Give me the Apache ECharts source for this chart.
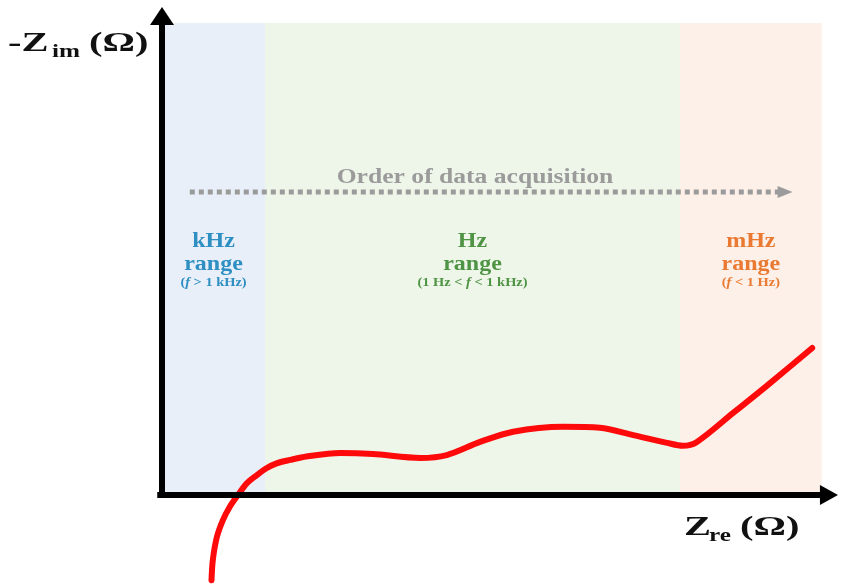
<!DOCTYPE html>
<html>
<head>
<meta charset="utf-8">
<script src="https://cdn.jsdelivr.net/npm/echarts@6/dist/echarts.min.js"></script>
<style>
  html, body { margin: 0; padding: 0; background: #ffffff; }
  #chart { width: 849px; height: 584px; }
</style>
</head>
<body>
<div id="chart"></div>
<script>
// Schematic Nyquist plot: -Z_im against Z_re (arbitrary units)
const zRe = [7.3, 7.5, 8.1, 9.0, 10.0, 11.2, 12.5, 14.0, 15.4, 16.9, 18.9, 21.3, 26.3, 31.1, 38.1, 42.0, 46.9, 51.8, 59.1, 64.6, 69.5, 74.5, 76.8, 78.9, 84.2, 89.2, 95.9];
const zIm = [-17.5, -13.3, -8.6, -5.1, -2.4, 0, 2.4, 4.1, 5.5, 6.5, 7.2, 7.9, 8.6, 8.4, 7.6, 8.2, 10.9, 13.0, 14.0, 13.8, 12.3, 10.7, 10.1, 10.9, 16.8, 22.4, 30.2];

// Frequency ranges shaded behind the curve
const bandNames = ['kHz', 'Hz', 'mHz'];
const bandSubPre = ['(', '(1 Hz < ', '('];
const bandSubPost = [' > 1 kHz)', ' < 1 kHz)', ' < 1 Hz)'];
const bandStart = [0, 15.2, 76.4];
const bandEnd = [15.2, 76.4, 97.3];
const bandTop = 96.9;
const bandFill = ['#e8eff9', '#eef6ea', '#fdf0e8'];
const bandInk = ['#2e8fc2', '#4f9444', '#ea7a32'];

// Acquisition-order arrow, in axis units
const orderFrom = [4.1, 62.2];
const orderTo = [93.0, 62.2];

// Axis extents, in axis units
const axisXFrom = [-0.7, 0], axisXTo = [99.7, 0];
const axisYFrom = [0, -0.5], axisYTo = [0, 100.2];

const SERIF = '"Liberation Serif", "DejaVu Serif", serif';

const chart = echarts.init(document.getElementById('chart'), null, { renderer: 'canvas' });

const curve = zRe.map((x, i) => [x, zIm[i]]);

const hiddenAxis = {
  type: 'value',
  min: 0,
  max: 100,
  splitLine: { show: false },
  axisTick: { show: false },
  axisLabel: { show: false },
  axisLine: { show: false }
};

chart.setOption({
  animation: false,
  grid: { left: 162, right: 9, top: 8, bottom: 89 },
  xAxis: Object.assign({}, hiddenAxis),
  yAxis: Object.assign({}, hiddenAxis),
  series: [
    {
      type: 'line',
      data: [],
      z: 1,
      silent: true,
      markArea: {
        silent: true,
        label: { show: false },
        data: bandNames.map((n, i) => [
          { xAxis: bandStart[i], yAxis: 0, itemStyle: { color: bandFill[i] } },
          { xAxis: bandEnd[i], yAxis: bandTop }
        ])
      }
    },
    {
      type: 'line',
      data: curve,
      z: 5,
      clip: false,
      smooth: 0.3,
      showSymbol: false,
      lineStyle: { color: '#ff0a0a', width: 6, cap: 'round' }
    }
  ]
});

const px = (p) => chart.convertToPixel({ gridIndex: 0 }, p);
const graphics = [];

// Axis lines with solid arrowheads
function axisArrow(from, to, head, halfWidth) {
  const p0 = px(from), p1 = px(to);
  const dx = p1[0] - p0[0], dy = p1[1] - p0[1];
  const len = Math.hypot(dx, dy), ux = dx / len, uy = dy / len;
  const bx = p1[0] - ux * head, by = p1[1] - uy * head;
  graphics.push({
    type: 'line', z: 30,
    shape: { x1: p0[0], y1: p0[1], x2: bx + ux * 2, y2: by + uy * 2 },
    style: { stroke: '#000000', lineWidth: 6 }
  });
  graphics.push({
    type: 'polygon', z: 30,
    shape: { points: [[bx - uy * halfWidth, by + ux * halfWidth], [p1[0], p1[1]], [bx + uy * halfWidth, by - ux * halfWidth]] },
    style: { fill: '#000000' }
  });
}
axisArrow(axisXFrom, axisXTo, 18, 10);
axisArrow(axisYFrom, axisYTo, 18, 12);

function stretchedText(x, y, text, size, color, align, stretch, extra) {
  return {
    type: 'text',
    x: x, y: y,
    scaleX: stretch,
    z: 20,
    style: Object.assign({
      text: text,
      font: 'bold ' + size + 'px ' + SERIF,
      fill: color,
      align: align || 'center',
      verticalAlign: 'middle'
    }, extra || {})
  };
}

// Range labels centred on each band
bandNames.forEach((n, i) => {
  const cx = px([(bandStart[i] + bandEnd[i]) / 2, 0])[0];
  graphics.push(stretchedText(cx, 242, n, 20, bandInk[i], 'center', 1.2));
  graphics.push(stretchedText(cx, 265, 'range', 20, bandInk[i], 'center', 1.2));
  graphics.push(stretchedText(cx, 283, bandSubPre[i] + '{i|f}' + bandSubPost[i], 12, bandInk[i], 'center', 1.2, {
    rich: { i: { font: 'bold italic 12px ' + SERIF, fill: bandInk[i] } }
  }));
});

// Dotted acquisition-order arrow
const a0 = px(orderFrom), a1 = px(orderTo);
graphics.push({
  type: 'line', z: 20,
  shape: { x1: a0[0], y1: a0[1], x2: a1[0] - 14, y2: a1[1] },
  style: { stroke: '#9b9b9b', lineWidth: 5, lineDash: [5, 4] }
});
graphics.push({
  type: 'polygon', z: 20,
  shape: { points: [[a1[0] - 15, a1[1] - 6], [a1[0], a1[1]], [a1[0] - 15, a1[1] + 6]] },
  style: { fill: '#9b9b9b' }
});
graphics.push(stretchedText(475, 178, 'Order of data acquisition', 20, '#9b9b9b', 'center', 1.28));

// Axis titles with subscripts
graphics.push(stretchedText(8, 44, '-Z', 27, '#111111', 'left', 1.5));
graphics.push(stretchedText(52, 52, 'im', 18, '#111111', 'left', 1.4));
graphics.push(stretchedText(89, 44, '(\u03a9)', 27, '#111111', 'left', 1.5));

graphics.push(stretchedText(684, 528, 'Z', 27, '#111111', 'left', 1.5));
graphics.push(stretchedText(709, 536, 're', 18, '#111111', 'left', 1.4));
graphics.push(stretchedText(740, 528, '(\u03a9)', 27, '#111111', 'left', 1.5));

chart.setOption({ graphic: graphics });
</script>
</body>
</html>
